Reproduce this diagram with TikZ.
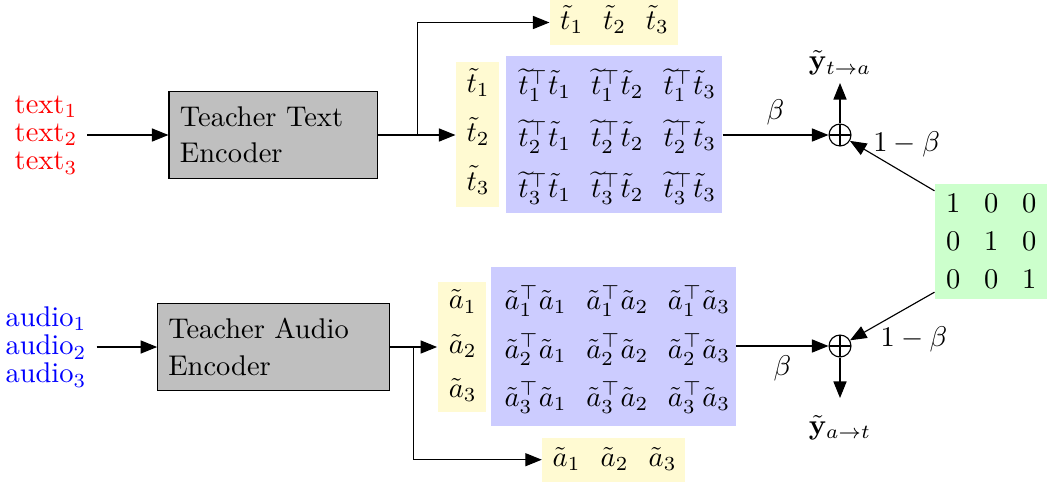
\documentclass[tikz,border=0pt]{standalone}
\usetikzlibrary{matrix,arrows.meta}
\definecolor{ylw}{RGB}{255,250,210}
\definecolor{blu}{RGB}{204,204,255}
\definecolor{grn}{RGB}{204,255,204}
\definecolor{boxgray}{RGB}{191,191,191}
\tikzset{
 mat/.style={matrix of math nodes, nodes={inner sep=0pt, align=center}},
 cellsz/.style n args={3}{nodes={text width=#1, text height=#2, text depth=#3}},
 arr/.style={-{Triangle[length=5.8pt,width=4.6pt]}},
 enc/.style={draw, fill=boxgray, align=left, font=\fontsize{10pt}{12.7pt}\selectfont},
 plus/.style={circle, draw, minimum size=7.7pt, inner sep=0pt,
   path picture={\draw (path picture bounding box.north) -- (path picture bounding box.south)
                       (path picture bounding box.west) -- (path picture bounding box.east);}},
 inp/.style={align=center, font=\fontsize{10pt}{9.9pt}\selectfont},
}
\begin{document}
\begin{tikzpicture}[x=0.351pt,y=-0.351pt]
\useasboundingbox (0,0) rectangle (1047,482);

% inputs
\node[inp, text=red] (txt) at (46,135) {text$_1$\\text$_2$\\text$_3$};
\node[inp, text=blue] (aud) at (46,347) {audio$_1$\\audio$_2$\\audio$_3$};

% encoders
\node[enc, minimum height=30.4pt, text width=65.5pt, inner xsep=3.86pt] (tenc) at (273.3,135) {Teacher Text\\Encoder};
\node[enc, minimum height=30.7pt, text width=73.85pt, inner xsep=3.72pt] (aenc) at (273.5,347) {Teacher Audio\\Encoder};

% text side matrices
\matrix (ty) [mat, fill=ylw, cellsz={7.72pt}{7.02pt}{2.11pt}, row sep=7.97pt, inner xsep=3.69pt, inner ysep=3.84pt] at (477.5,134.3)
 {\tilde{t}_1\\ \tilde{t}_2\\ \tilde{t}_3\\};
\matrix (tr) [mat, fill=ylw, cellsz={7.72pt}{7.02pt}{2.11pt}, column sep=7.3pt, inner xsep=3.58pt, inner ysep=3.33pt] at (614,22.5)
 {\tilde{t}_1 & \tilde{t}_2 & \tilde{t}_3\\};
\matrix (tb) [mat, fill=blu, cellsz={16.15pt}{9.48pt}{1.4pt}, column sep=9.3pt, row sep=7.2pt, inner xsep=4.39pt, inner ysep=4.04pt] at (614,134.5)
 {\widetilde{t}_1^{\top}\tilde{t}_1 & \widetilde{t}_1^{\top}\tilde{t}_2 & \widetilde{t}_1^{\top}\tilde{t}_3\\
  \widetilde{t}_2^{\top}\tilde{t}_1 & \widetilde{t}_2^{\top}\tilde{t}_2 & \widetilde{t}_2^{\top}\tilde{t}_3\\
  \widetilde{t}_3^{\top}\tilde{t}_1 & \widetilde{t}_3^{\top}\tilde{t}_2 & \widetilde{t}_3^{\top}\tilde{t}_3\\};

% audio side matrices
\matrix (ay) [mat, fill=ylw, cellsz={9.13pt}{6.67pt}{2.11pt}, row sep=6.74pt, inner xsep=3.91pt, inner ysep=2.91pt] at (461.8,346.7)
 {\tilde{a}_1\\ \tilde{a}_2\\ \tilde{a}_3\\};
\matrix (ar) [mat, fill=ylw, cellsz={9.13pt}{6.67pt}{2.11pt}, column sep=7.72pt, inner xsep=3.63pt, inner ysep=3.33pt] at (613.7,459.7)
 {\tilde{a}_1 & \tilde{a}_2 & \tilde{a}_3\\};
\matrix (ab) [mat, fill=blu, cellsz={18.95pt}{10.53pt}{2.46pt}, column sep=9.72pt, row sep=3.97pt, inner xsep=4.77pt, inner ysep=4.35pt] at (613.3,346.5)
 {\tilde{a}_1^{\top}\tilde{a}_1 & \tilde{a}_1^{\top}\tilde{a}_2 & \tilde{a}_1^{\top}\tilde{a}_3\\
  \tilde{a}_2^{\top}\tilde{a}_1 & \tilde{a}_2^{\top}\tilde{a}_2 & \tilde{a}_2^{\top}\tilde{a}_3\\
  \tilde{a}_3^{\top}\tilde{a}_1 & \tilde{a}_3^{\top}\tilde{a}_2 & \tilde{a}_3^{\top}\tilde{a}_3\\};

% identity
\matrix (g) [mat, fill=grn, cellsz={4.91pt}{6.32pt}{0pt}, column sep=8.42pt, row sep=7.06pt, inner xsep=3.86pt, inner ysep=3.51pt] at (991,241.5)
 {1 & 0 & 0\\ 0 & 1 & 0\\ 0 & 0 & 1\\};

% combiners
\node[plus] (p1) at (840,135) {};
\node[plus] (p2) at (840,346) {};
\node[anchor=south, inner xsep=0pt, inner ysep=2.46pt] (yta) at (840,83) {$\tilde{\mathbf{y}}_{t\to a}$};
\node[anchor=north, inner xsep=0pt, inner ysep=5.8pt] (yat) at (840,398) {$\tilde{\mathbf{y}}_{a\to t}$};
\node (l1) at (906.7,144) {$1-\beta$};
\node (l2) at (914,339) {$1-\beta$};

% connectors
\draw[arr] (txt.east |- tenc.west) -- (tenc.west);
\draw[arr] (aud.east |- aenc.west) -- (aenc.west);
\draw[arr] (tenc.east) -- (tenc.east -| ty.west);
\draw[arr] (tenc.east) -- ++(39,0) |- (tr.west);
\draw[arr] (aenc.east) -- (aenc.east -| ay.west);
\draw[arr] (aenc.east) -- ++(24,0) |- (ar.west);
\draw[arr] (tb.east |- p1) -- (p1) node[midway, above] (b1) {$\beta$};
\draw[arr] (ab.east |- p2) -- (p2) node[midway, below] (b2) {$\beta$};
\draw[arr] (p1) -- (yta);
\draw[arr] (p2) -- (yat);
\draw[arr] ([yshift=-2.46pt]g.north west) -- (p1);
\draw[arr] ([yshift=2.46pt]g.south west) -- (p2);
\end{tikzpicture}
\end{document}
